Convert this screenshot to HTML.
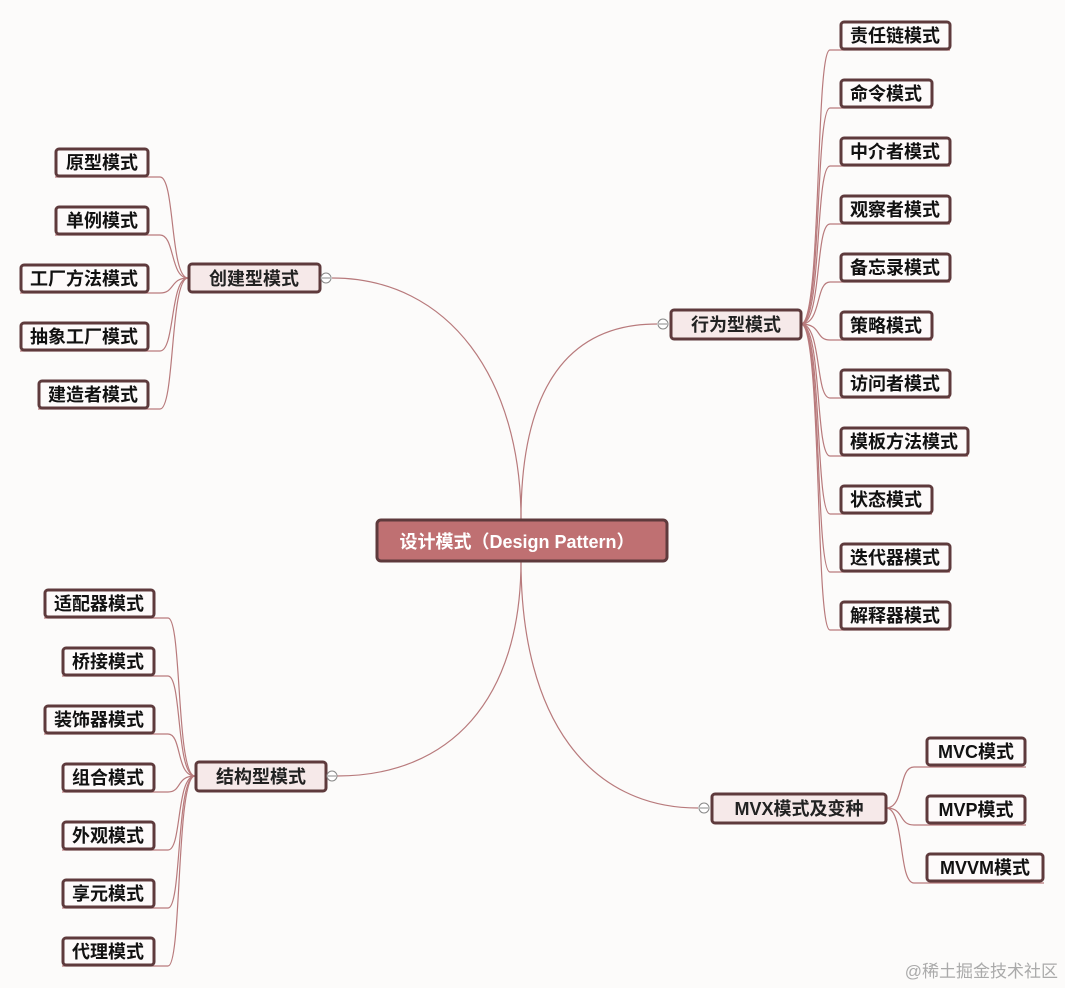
<!DOCTYPE html>
<html><head><meta charset="utf-8"><style>
html,body{margin:0;padding:0;background:#fcfbfa;}
svg{display:block}
text{font-family:"Liberation Sans","Noto Sans CJK SC",sans-serif;font-weight:bold;}
.l{fill:#fdfafa;stroke:#5e3a3c;stroke-width:3}
.b{fill:#f6e9e9;stroke:#5e3a3c;stroke-width:3}
.c{fill:none;stroke:#b87a7c;stroke-width:1.2}
.t{font-size:18px;fill:#111}
.bt{font-size:18px;fill:#222}
.k{fill:#fff;stroke:#888;stroke-width:1}
</style></head><body>
<svg width="1065" height="988" viewBox="0 0 1065 988" xmlns="http://www.w3.org/2000/svg">
<path class="c" d="M521,519 C521,380 450,278 332,278"/>
<path class="c" d="M521,519 C521,400 560,324 657,324"/>
<path class="c" d="M521,561 C521,700 450,776 337,776"/>
<path class="c" d="M521,561 C521,720 590,808 698,808"/>

<path class="c" d="M188,278 C170,278 175,177 160,177 L55,177"/>
<path class="c" d="M188,278 C170,278 175,235 160,235 L55,235"/>
<path class="c" d="M188,278 C170,278 175,293 160,293 L20,293"/>
<path class="c" d="M188,278 C170,278 175,351 160,351 L20,351"/>
<path class="c" d="M188,278 C170,278 175,409 160,409 L38,409"/>

<path class="c" d="M801,324 C822,324 815,50 830,50 L950,50"/>
<path class="c" d="M801,324 C822,324 815,108 830,108 L932,108"/>
<path class="c" d="M801,324 C822,324 815,166 830,166 L950,166"/>
<path class="c" d="M801,324 C822,324 815,224 830,224 L950,224"/>
<path class="c" d="M801,324 C822,324 815,282 830,282 L950,282"/>
<path class="c" d="M801,324 C822,324 815,340 830,340 L932,340"/>
<path class="c" d="M801,324 C822,324 815,398 830,398 L950,398"/>
<path class="c" d="M801,324 C822,324 815,456 830,456 L968,456"/>
<path class="c" d="M801,324 C822,324 815,514 830,514 L932,514"/>
<path class="c" d="M801,324 C822,324 815,572 830,572 L950,572"/>
<path class="c" d="M801,324 C822,324 815,630 830,630 L950,630"/>

<path class="c" d="M195,776 C176,776 182,618 168,618 L44,618"/>
<path class="c" d="M195,776 C176,776 182,676 168,676 L62,676"/>
<path class="c" d="M195,776 C176,776 182,734 168,734 L44,734"/>
<path class="c" d="M195,776 C176,776 182,792 168,792 L62,792"/>
<path class="c" d="M195,776 C176,776 182,850 168,850 L62,850"/>
<path class="c" d="M195,776 C176,776 182,908 168,908 L62,908"/>
<path class="c" d="M195,776 C176,776 182,966 168,966 L62,966"/>

<path class="c" d="M886,808 C905,808 898,767 914,767 L1026,767"/>
<path class="c" d="M886,808 C905,808 898,825 914,825 L1026,825"/>
<path class="c" d="M886,808 C905,808 898,883 914,883 L1044,883"/>

<rect x="377" y="520" width="290" height="41" rx="4" fill="#bf7072" stroke="#5e3a3c" stroke-width="3"/>
<text x="517" y="548" text-anchor="middle" style="font-size:18px;fill:#fff">设计模式（Design Pattern）</text>

<rect class="b" x="189" y="264" width="131" height="28" rx="3"/>
<text class="bt" x="254" y="285" text-anchor="middle">创建型模式</text>
<circle class="k" cx="326" cy="278" r="5"/><line x1="322" y1="278" x2="330" y2="278" stroke="#888"/>

<rect class="b" x="671" y="310" width="130" height="29" rx="3"/>
<text class="bt" x="736" y="331" text-anchor="middle">行为型模式</text>
<circle class="k" cx="663" cy="324" r="5"/><line x1="659" y1="324" x2="667" y2="324" stroke="#888"/>

<rect class="b" x="196" y="762" width="130" height="29" rx="3"/>
<text class="bt" x="261" y="783" text-anchor="middle">结构型模式</text>
<circle class="k" cx="332" cy="776" r="5"/><line x1="328" y1="776" x2="336" y2="776" stroke="#888"/>

<rect class="b" x="712" y="794" width="174" height="29" rx="3"/>
<text class="bt" x="799" y="815" text-anchor="middle">MVX模式及变种</text>
<circle class="k" cx="704" cy="808" r="5"/><line x1="700" y1="808" x2="708" y2="808" stroke="#888"/>

<rect class="l" x="56" y="149" width="92" height="27" rx="3"/><text class="t" x="102" y="169" text-anchor="middle">原型模式</text>
<rect class="l" x="56" y="207" width="92" height="27" rx="3"/><text class="t" x="102" y="227" text-anchor="middle">单例模式</text>
<rect class="l" x="21" y="265" width="127" height="27" rx="3"/><text class="t" x="84" y="285" text-anchor="middle">工厂方法模式</text>
<rect class="l" x="21" y="323" width="127" height="27" rx="3"/><text class="t" x="84" y="343" text-anchor="middle">抽象工厂模式</text>
<rect class="l" x="39" y="381" width="109" height="27" rx="3"/><text class="t" x="93" y="401" text-anchor="middle">建造者模式</text>

<rect class="l" x="841" y="22" width="109" height="27" rx="3"/><text class="t" x="895" y="42" text-anchor="middle">责任链模式</text>
<rect class="l" x="841" y="80" width="91" height="27" rx="3"/><text class="t" x="886" y="100" text-anchor="middle">命令模式</text>
<rect class="l" x="841" y="138" width="109" height="27" rx="3"/><text class="t" x="895" y="158" text-anchor="middle">中介者模式</text>
<rect class="l" x="841" y="196" width="109" height="27" rx="3"/><text class="t" x="895" y="216" text-anchor="middle">观察者模式</text>
<rect class="l" x="841" y="254" width="109" height="27" rx="3"/><text class="t" x="895" y="274" text-anchor="middle">备忘录模式</text>
<rect class="l" x="841" y="312" width="91" height="27" rx="3"/><text class="t" x="886" y="332" text-anchor="middle">策略模式</text>
<rect class="l" x="841" y="370" width="109" height="27" rx="3"/><text class="t" x="895" y="390" text-anchor="middle">访问者模式</text>
<rect class="l" x="841" y="428" width="127" height="27" rx="3"/><text class="t" x="904" y="448" text-anchor="middle">模板方法模式</text>
<rect class="l" x="841" y="486" width="91" height="27" rx="3"/><text class="t" x="886" y="506" text-anchor="middle">状态模式</text>
<rect class="l" x="841" y="544" width="109" height="27" rx="3"/><text class="t" x="895" y="564" text-anchor="middle">迭代器模式</text>
<rect class="l" x="841" y="602" width="109" height="27" rx="3"/><text class="t" x="895" y="622" text-anchor="middle">解释器模式</text>

<rect class="l" x="45" y="590" width="109" height="27" rx="3"/><text class="t" x="99" y="610" text-anchor="middle">适配器模式</text>
<rect class="l" x="63" y="648" width="91" height="27" rx="3"/><text class="t" x="108" y="668" text-anchor="middle">桥接模式</text>
<rect class="l" x="45" y="706" width="109" height="27" rx="3"/><text class="t" x="99" y="726" text-anchor="middle">装饰器模式</text>
<rect class="l" x="63" y="764" width="91" height="27" rx="3"/><text class="t" x="108" y="784" text-anchor="middle">组合模式</text>
<rect class="l" x="63" y="822" width="91" height="27" rx="3"/><text class="t" x="108" y="842" text-anchor="middle">外观模式</text>
<rect class="l" x="63" y="880" width="91" height="27" rx="3"/><text class="t" x="108" y="900" text-anchor="middle">享元模式</text>
<rect class="l" x="63" y="938" width="91" height="27" rx="3"/><text class="t" x="108" y="958" text-anchor="middle">代理模式</text>

<rect class="l" x="927" y="738" width="98" height="27" rx="3"/><text class="t" x="976" y="758" text-anchor="middle">MVC模式</text>
<rect class="l" x="927" y="796" width="98" height="27" rx="3"/><text class="t" x="976" y="816" text-anchor="middle">MVP模式</text>
<rect class="l" x="927" y="854" width="116" height="27" rx="3"/><text class="t" x="985" y="874" text-anchor="middle">MVVM模式</text>

<text x="1058" y="977" text-anchor="end" style="font-size:17px;font-weight:normal;fill:#aaa">@稀土掘金技术社区</text>
</svg>
</body></html>
